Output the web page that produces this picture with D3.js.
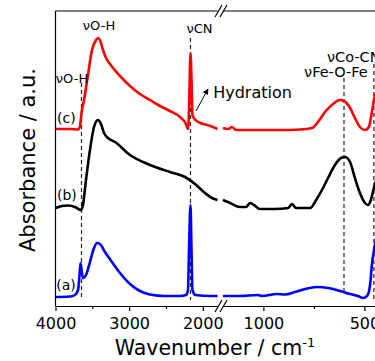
<!DOCTYPE html>
<html>
<head>
<meta charset="utf-8">
<script src="https://cdn.jsdelivr.net/npm/d3@7"></script>
<style>
  body { margin: 0; background: #fff; }
  svg text { font-family: "DejaVu Sans", sans-serif; fill: #000; }
</style>
</head>
<body>
<div id="chart"></div>
<script>
// spectra (wavenumber in cm-1, absorbance in a.u., already stacked)
var wnC  = [4000,3803,3694,3667,3647,3613,3559,3504,3450,3423,3396,3355,3314,3260,3124,2988,2853,2717,2581,2445,2309,2228,2201,2187,2167,2153,2140,2099,2032,1896,1800,
            1200,1175,1155,1136,1091,1017,918,819,759,730,695,655,621,601,571,547,522,497,478,463,453,433];
var absC = [177,177,176.5,180,193,206,231,256,266,268,266,256,248,242,230,220,212,206,200,195,189,182,177,196,253,226,191,186,183,180,177,
            178,177,179,176,176,176,176,176.5,178,184,194,202,206,205,198,188,179,176,179,194,206,216];

var wnB  = [4000,3912,3830,3735,3654,3627,3586,3532,3477,3423,3382,3341,3287,3192,2988,2717,2445,2241,2105,1970,1875,1800,
            1200,1165,1116,1086,1066,1047,1017,943,878,858,839,769,739,710,680,646,616,596,571,547,522,497,482,468,453,433];
var absB = [98,100,100.5,99,96,101,126,156,179,186,182,173,168,164,151,141,134,129,122,113,108,106,
            106,103,99,99,103,101,97,97,98,102,98,98,106,116,128,141,148,149,144,128,113,103,101,106,118,131];

var wnA  = [4000,3803,3735,3694,3674,3660,3647,3627,3586,3532,3477,3437,3396,3328,3233,3124,2988,2853,2717,2513,2309,2228,2201,2187,2167,2153,2140,2099,1896,1800,
            1200,1116,1027,1007,933,893,844,794,735,680,621,571,532,507,487,472,463,448,433];
var absA = [9,9.5,11,16,31,43,36,28,31,44,58,63,62,54,44,33,22,15,11.5,10,10,11,16,56,101,56,16,11,10,10,
            10,10,11,10,12,11.5,14,17,19,18,15,12,10,8,10,21,41,61,76];

// axis ticks
var majorTicksLeft  = [4000, 3000, 2000];
var minorTicksLeft  = [3500, 2500];
var majorTicksRight = [1000, 500];
var minorTicksRight = [750];

// band markers: [wavenumber, top, bottom]
var markers = [[3647, 223, 8], [2167, 268, 6], [601, 228, 14], [453, 242, 6]];

// annotations: [text, wavenumber, absorbance, anchor, size]
var bandLabels = [
  ["\u03BDO-H", 3776, 223, "middle", 13],
  ["\u03BDO-H", 3409, 276, "middle", 13],
  ["\u03BDCN", 2045, 273, "middle", 13],
  ["\u03BDFe-O-Fe", 641, 229, "middle", 14.5],
  ["\u03BDCo-CN", 685, 244, "start", 14.5],
  ["Hydration", 1859, 208, "start", 16]
];
var sampleLabels = [["(c)", 3980, 183], ["(b)", 3980, 106], ["(a)", 3990, 16]];

var series = [
  {wn: wnA, ab: absA, color: "#0000ff"},
  {wn: wnB, ab: absB, color: "#000000"},
  {wn: wnC, ab: absC, color: "#ff0000"}
];

var width = 375, height = 361;
var plotTop = 11, plotBottom = 306;

var svg = d3.select("#chart").append("svg")
    .attr("width", width)
    .attr("height", height);

// broken x axis: two linear pieces
var xL = d3.scaleLinear().domain([4000, 1800]).range([55.5, 217.5]);
var xR = d3.scaleLinear().domain([1200, 400]).range([223, 384.6]);
var x = function(w) { return w >= 1500 ? xL(w) : xR(w); };
var y = d3.scaleLinear().domain([0, 295]).range([plotBottom, plotTop]);

// marker lines
svg.append("g").selectAll("line")
    .data(markers)
    .enter().append("line")
    .attr("x1", function(d) { return x(d[0]); })
    .attr("x2", function(d) { return x(d[0]); })
    .attr("y1", function(d) { return y(d[1]); })
    .attr("y2", function(d) { return y(d[2]); })
    .attr("stroke", "#222")
    .attr("stroke-width", 1.2)
    .attr("stroke-dasharray", "4,3");

// spectra
var line = d3.line()
    .x(function(d) { return x(d[0]); })
    .y(function(d) { return y(d[1]); })
    .curve(d3.curveMonotoneX);

series.forEach(function(s) {
    var pts = s.wn.map(function(w, i) { return [w, s.ab[i]]; });
    var left = pts.filter(function(p) { return p[0] >= 1500; });
    var right = pts.filter(function(p) { return p[0] < 1500; });
    [left, right].forEach(function(seg) {
        svg.append("path")
            .datum(seg)
            .attr("d", line)
            .attr("fill", "none")
            .attr("stroke", s.color)
            .attr("stroke-width", 2.6)
            .attr("stroke-linejoin", "round");
    });
});

// frame
var frame = svg.append("g").attr("stroke", "#000").attr("stroke-width", 1.2);
frame.append("line").attr("x1", 55.5).attr("x2", 55.5).attr("y1", plotTop).attr("y2", plotBottom);
frame.append("line").attr("x1", 55.5).attr("x2", 217.5).attr("y1", plotTop).attr("y2", plotTop);
frame.append("line").attr("x1", 223).attr("x2", 384.6).attr("y1", plotTop).attr("y2", plotTop);

// break marks
[plotTop, plotBottom].forEach(function(yy) {
    [218.5, 223.5].forEach(function(xx) {
        frame.append("line")
            .attr("x1", xx - 3.5).attr("y1", yy + 6)
            .attr("x2", xx + 3.5).attr("y2", yy - 6);
    });
});

// axes
function drawAxis(scale, major, minor) {
    var g = svg.append("g").attr("transform", "translate(0," + plotBottom + ")");
    g.call(d3.axisBottom(scale).tickValues(major).tickFormat(d3.format("d"))
        .tickSize(5).tickSizeOuter(0).tickPadding(7));
    g.selectAll("text").attr("font-size", 16).attr("font-family", "DejaVu Sans, sans-serif");
    g.selectAll("line, path").attr("stroke-width", 1.2);
    var m = svg.append("g").attr("transform", "translate(0," + plotBottom + ")");
    m.call(d3.axisBottom(scale).tickValues(minor).tickSize(3).tickFormat(""));
    m.select(".domain").remove();
    m.selectAll("line").attr("stroke-width", 1.2);
}
drawAxis(xL, majorTicksLeft, minorTicksLeft);
drawAxis(xR, majorTicksRight, minorTicksRight);

// labels
svg.append("g").selectAll("text")
    .data(bandLabels)
    .enter().append("text")
    .attr("x", function(d) { return x(d[1]); })
    .attr("y", function(d) { return y(d[2]); })
    .attr("text-anchor", function(d) { return d[3]; })
    .attr("font-size", function(d) { return d[4]; })
    .text(function(d) { return d[0]; });

svg.append("g").selectAll("text")
    .data(sampleLabels)
    .enter().append("text")
    .attr("x", function(d) { return x(d[1]); })
    .attr("y", function(d) { return y(d[2]); })
    .attr("font-size", 14)
    .text(function(d) { return d[0]; });

// hydration arrow
svg.append("defs").append("marker")
    .attr("id", "arrow")
    .attr("viewBox", "0 0 10 10")
    .attr("refX", 9).attr("refY", 5)
    .attr("markerWidth", 6).attr("markerHeight", 6)
    .attr("orient", "auto")
    .append("path").attr("d", "M0,0L10,5L0,10z").attr("fill", "#000");
svg.append("line")
    .attr("x1", x(2092)).attr("y1", y(195))
    .attr("x2", x(1929)).attr("y2", y(217))
    .attr("stroke", "#000").attr("stroke-width", 1)
    .attr("marker-end", "url(#arrow)");

// axis titles
var xt = svg.append("text")
    .attr("x", 215).attr("y", 355)
    .attr("text-anchor", "middle")
    .attr("font-size", 20.5);
xt.append("tspan").text("Wavenumber / cm");
xt.append("tspan").attr("dy", -8).attr("font-size", 13).text("-1");

svg.append("text")
    .attr("transform", "translate(35,160) rotate(-90)")
    .attr("text-anchor", "middle")
    .attr("font-size", 21)
    .text("Absorbance / a.u.");
</script>
</body>
</html>
